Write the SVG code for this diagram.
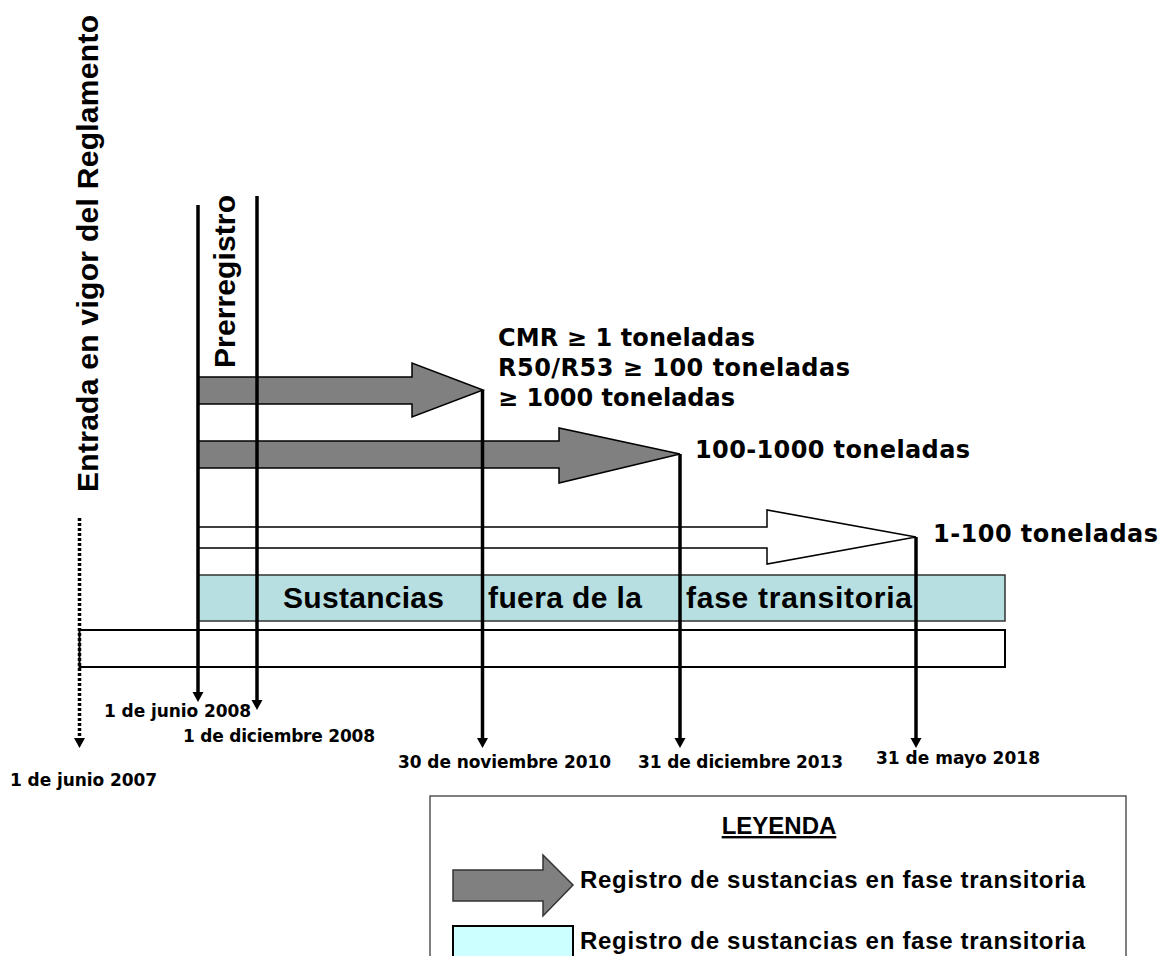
<svg xmlns="http://www.w3.org/2000/svg" width="1163" height="956" viewBox="0 0 1163 956">
<style>
.big{font-family:"Liberation Sans",Arial,sans-serif;font-weight:bold;font-size:30px;fill:#000}
.mid{font-family:"DejaVu Sans",Verdana,sans-serif;font-weight:bold;font-size:24px;fill:#000}
.date{font-family:"DejaVu Sans",Verdana,sans-serif;font-weight:bold;font-size:17px;fill:#000}
.leg{font-family:"Liberation Sans",Arial,sans-serif;font-weight:bold;font-size:24px;fill:#000}
.garrow{fill:#808080;stroke:#000;stroke-width:1.5}
.warrow{fill:#fff;stroke:#000;stroke-width:1.5}
.vline{stroke:#000;stroke-width:3.5;fill:none}
.head{fill:#000}
</style>
<rect width="1163" height="956" fill="#fff"/>

<g id="title-labels">
<text class="big" transform="translate(98,492) rotate(-90)" textLength="477">Entrada en vigor del Reglamento</text>
<text class="big" transform="translate(235,368) rotate(-90)" textLength="173">Prerregistro</text>
</g>

<g id="band-white">
<rect x="79.5" y="630" width="925.5" height="37" fill="#fff" stroke="#000" stroke-width="2"/>
</g>
<g id="band-cyan">
<rect x="198" y="575" width="807" height="46" fill="#B7DFE1" stroke="#333" stroke-width="1.5"/>
<text class="big" x="283" y="608" textLength="161">Sustancias</text>
<text class="big" x="488" y="608" textLength="154">fuera de la</text>
<text class="big" x="686" y="608" textLength="226">fase transitoria</text>
</g>

<g id="arrow-1">
<polygon class="garrow" points="198,377 412,377 412,363 483,390 412,417 412,404 198,404"/>
<text class="mid" x="498" y="346" textLength="257">CMR ≥ 1 toneladas</text>
<text class="mid" x="498" y="376" textLength="352">R50/R53 ≥ 100 toneladas</text>
<text class="mid" x="498" y="406" textLength="237">≥ 1000 toneladas</text>
</g>
<g id="arrow-2">
<polygon class="garrow" points="198,441 559,441 559,428 680,454 559,483 559,468 198,468"/>
<text class="mid" x="695" y="458" textLength="275">100-1000 toneladas</text>
</g>
<g id="arrow-3">
<polygon class="warrow" points="198,527 767,527 767,510 916,537 767,564 767,548 198,548"/>
<text class="mid" x="933" y="542" textLength="225">1-100 toneladas</text>
</g>

<g id="connectors">
<line x1="79.5" y1="518" x2="79.5" y2="740" stroke="#000" stroke-width="3.5" stroke-dasharray="3,2"/>
<polygon class="head" points="74,738 85,738 79.5,748"/>
<line class="vline" x1="198" y1="205" x2="198" y2="694"/>
<polygon class="head" points="192.5,692 203.5,692 198,702"/>
<line class="vline" x1="257" y1="196" x2="257" y2="702"/>
<polygon class="head" points="251.5,700 262.5,700 257,710"/>
<line class="vline" x1="482.5" y1="390" x2="482.5" y2="740"/>
<polygon class="head" points="477,738 488,738 482.5,748"/>
<line class="vline" x1="680" y1="454" x2="680" y2="740"/>
<polygon class="head" points="674.5,738 685.5,738 680,748"/>
<line class="vline" x1="916" y1="537" x2="916" y2="740"/>
<polygon class="head" points="910.5,738 921.5,738 916,748"/>
</g>

<g id="dates">
<text class="date" x="104" y="717" textLength="147">1 de junio 2008</text>
<text class="date" x="183" y="742" textLength="192">1 de diciembre 2008</text>
<text class="date" x="10" y="786" textLength="147">1 de junio 2007</text>
<text class="date" x="398" y="768" textLength="213">30 de noviembre 2010</text>
<text class="date" x="638" y="768" textLength="205">31 de diciembre 2013</text>
<text class="date" x="876" y="764" textLength="164">31 de mayo 2018</text>
</g>

<g id="legend">
<rect x="430" y="796" width="696" height="180" fill="#fff" stroke="#555" stroke-width="1.5"/>
<text class="leg" x="779" y="834" text-anchor="middle" text-decoration="underline">LEYENDA</text>
<polygon points="453,870 543,870 543,855 573,885 543,916 543,901 453,901" fill="#808080" stroke="#333" stroke-width="1.5"/>
<text class="leg" x="580" y="888" textLength="505">Registro de sustancias en fase  transitoria</text>
<rect x="453" y="926" width="120" height="40" fill="#CCFFFF" stroke="#000" stroke-width="2"/>
<text class="leg" x="580" y="949" textLength="505">Registro de sustancias en fase  transitoria</text>
</g>
</svg>
